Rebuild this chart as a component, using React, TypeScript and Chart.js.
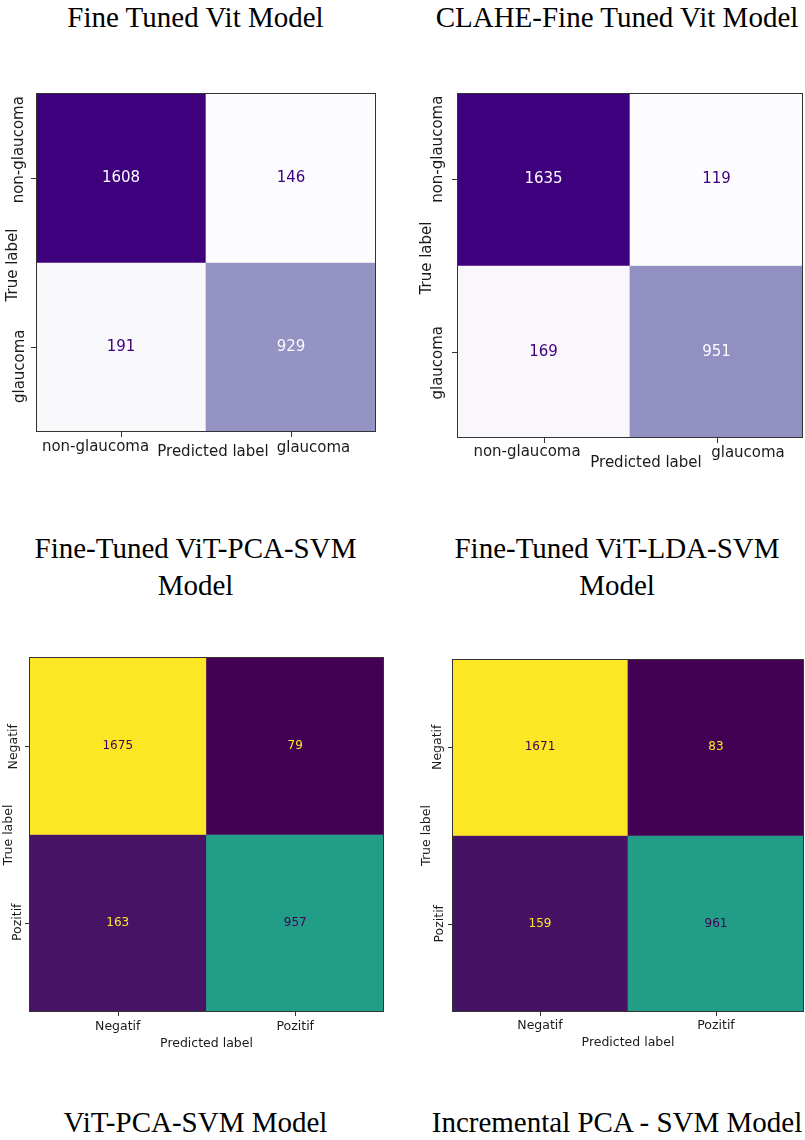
import React, { useEffect, useRef } from "react";
import { Chart, registerables } from "chart.js";

Chart.register(...registerables);

// ---------------- data ----------------
const glaucomaClasses = ["non-glaucoma", "glaucoma"];
const binaryClasses = ["Negatif", "Pozitif"];

// rows = true label, columns = predicted label
const fineTunedVitMatrix = [
  [1608, 146],
  [191, 929],
];
const claheFineTunedVitMatrix = [
  [1635, 119],
  [169, 951],
];
const vitPcaSvmMatrix = [
  [1675, 79],
  [163, 957],
];
const incrementalPcaSvmMatrix = [
  [1671, 83],
  [159, 961],
];

const topTitles = ["Fine Tuned Vit Model", "CLAHE-Fine Tuned Vit Model"];
const middleTitles = [
  ["Fine-Tuned ViT-PCA-SVM", "Model"],
  ["Fine-Tuned ViT-LDA-SVM", "Model"],
];
const bottomTitles = ["ViT-PCA-SVM Model", "Incremental PCA - SVM Model"];
const xAxisTitle = "Predicted label";
const yAxisTitle = "True label";

// ---------------- colormaps ----------------
const PURPLES = ["#fcfbfd", "#efedf5", "#dadaeb", "#bcbddc", "#9e9ac8", "#807dba", "#6a51a3", "#54278f", "#3f007d"];
const VIRIDIS = ["#440154", "#482475", "#414487", "#355f8d", "#2a788e", "#21918c", "#22a884", "#44bf70", "#7ad151", "#bddf26", "#fde725"];

function hexToRgb(h: string) {
  const s = h.replace("#", "");
  return [parseInt(s.slice(0, 2), 16), parseInt(s.slice(2, 4), 16), parseInt(s.slice(4, 6), 16)];
}
function cmap(stops: string[], t: number) {
  const tt = Math.max(0, Math.min(1, t));
  const p = tt * (stops.length - 1);
  const i = Math.min(Math.floor(p), stops.length - 2);
  const f = p - i;
  const a = hexToRgb(stops[i]);
  const b = hexToRgb(stops[i + 1]);
  const c = a.map((v, k) => Math.round(v + (b[k] - v) * f));
  return `rgb(${c[0]},${c[1]},${c[2]})`;
}

type Deco = {
  tickFont: number;
  valueFont: number;
  tickLen: number;
  yTickDx: number[];
  yTickDy: number[];
  yTitle: { dx: number; dy: number };
  xTickDx: number[];
  xTickDy: number[];
  xTitle: { dx: number; dy: number };
};

type Props = {
  matrix: number[][];
  classes: string[];
  stops: string[];
  box: { left: number; top: number; width: number; height: number };
  pad: { left: number; right: number; top: number; bottom: number };
  deco: Deco;
};

const FONT = '"DejaVu Sans", "Liberation Sans", sans-serif';

function ConfusionChart({ matrix, classes, stops, box, pad, deco }: Props) {
  const ref = useRef<HTMLCanvasElement | null>(null);

  useEffect(() => {
    if (!ref.current) return;
    const n = classes.length;
    const flat = matrix.flat();
    const min = Math.min(...flat);
    const max = Math.max(...flat);
    const thresh = (min + max) / 2;
    const colorOf = (v: number) => cmap(stops, (v - min) / (max - min));

    const datasets = matrix.map((row, r) => ({
      label: classes[r],
      data: row.map(() => [n - r - 1, n - r]),
      backgroundColor: row.map(colorOf),
      borderWidth: 0,
      grouped: false,
      categoryPercentage: 1,
      barPercentage: 1,
    }));

    const decoPlugin = {
      id: "cmDeco",
      afterDatasetsDraw(chart: any) {
        const { ctx, chartArea: a, scales } = chart;
        const xs = scales.x;
        const ys = scales.y;
        ctx.save();
        // cell values
        ctx.textAlign = "center";
        ctx.textBaseline = "middle";
        ctx.font = `${deco.valueFont}px ${FONT}`;
        matrix.forEach((row, r) => {
          row.forEach((v, c) => {
            const px = xs.getPixelForValue(c);
            const py = ys.getPixelForValue(n - r - 0.5);
            ctx.fillStyle = v > thresh ? cmap(stops, 0) : cmap(stops, 1);
            ctx.fillText(String(v), px, py);
          });
        });
        // frame
        ctx.strokeStyle = "#333333";
        ctx.lineWidth = 1;
        ctx.strokeRect(a.left + 0.5, a.top + 0.5, a.right - a.left - 1, a.bottom - a.top - 1);
        // tick marks
        ctx.beginPath();
        classes.forEach((_, c) => {
          const px = Math.round(xs.getPixelForValue(c)) + 0.5;
          ctx.moveTo(px, a.bottom);
          ctx.lineTo(px, a.bottom + deco.tickLen);
        });
        classes.forEach((_, r) => {
          const py = Math.round(ys.getPixelForValue(n - r - 0.5)) + 0.5;
          ctx.moveTo(a.left - deco.tickLen, py);
          ctx.lineTo(a.left, py);
        });
        ctx.stroke();
        // tick labels
        ctx.fillStyle = "#1a1a1a";
        ctx.font = `${deco.tickFont}px ${FONT}`;
        classes.forEach((lab, c) => {
          ctx.fillText(lab, xs.getPixelForValue(c) + deco.xTickDx[c], a.bottom + deco.xTickDy[c]);
        });
        classes.forEach((lab, r) => {
          ctx.save();
          ctx.translate(a.left + deco.yTickDx[r], ys.getPixelForValue(n - r - 0.5) + deco.yTickDy[r]);
          ctx.rotate(-Math.PI / 2);
          ctx.fillText(lab, 0, 0);
          ctx.restore();
        });
        // axis titles
        ctx.fillText(xAxisTitle, (a.left + a.right) / 2 + deco.xTitle.dx, a.bottom + deco.xTitle.dy);
        ctx.save();
        ctx.translate(a.left + deco.yTitle.dx, (a.top + a.bottom) / 2 + deco.yTitle.dy);
        ctx.rotate(-Math.PI / 2);
        ctx.fillText(yAxisTitle, 0, 0);
        ctx.restore();
        ctx.restore();
      },
    };

    const chart = new Chart(ref.current, {
      type: "bar",
      data: { labels: classes, datasets: datasets as any },
      options: {
        animation: false,
        responsive: false,
        devicePixelRatio: 1,
        layout: { padding: pad },
        plugins: {
          legend: { display: false },
          tooltip: { enabled: false },
          title: { display: false },
        },
        scales: {
          x: { type: "category", display: false, offset: true },
          y: { type: "linear", display: false, min: 0, max: n },
        },
      } as any,
      plugins: [decoPlugin as any],
    });
    return () => chart.destroy();
  }, [matrix, classes, stops, pad, deco]);

  return (
    <canvas
      ref={ref}
      width={box.width}
      height={box.height}
      style={{ position: "absolute", left: box.left, top: box.top, width: box.width, height: box.height }}
    />
  );
}

const titleStyle = (cx: number, baseline: number): React.CSSProperties => ({
  position: "absolute",
  left: cx - 200,
  width: 400,
  top: baseline - 28.3,
  textAlign: "center",
  fontFamily: '"Liberation Serif", "Times New Roman", serif',
  fontSize: 29,
  lineHeight: "37px",
  color: "#000",
  whiteSpace: "nowrap",
});

const LEFT_CX = 195.5;
const RIGHT_CX = 617;

export default function App() {
  return (
    <div style={{ position: "absolute", left: 0, top: 0, width: 805, height: 1140, background: "#fff", overflow: "hidden" }}>
      <div style={titleStyle(LEFT_CX, 27)}>{topTitles[0]}</div>
      <div style={titleStyle(RIGHT_CX, 27)}>{topTitles[1]}</div>

      <ConfusionChart
        matrix={fineTunedVitMatrix}
        classes={glaucomaClasses}
        stops={PURPLES}
        box={{ left: 0, top: 40, width: 400, height: 440 }}
        pad={{ left: 36, right: 24, top: 53, bottom: 48 }}
        deco={{
          tickFont: 15,
          valueFont: 15,
          tickLen: 5,
          yTickDx: [-17, -16],
          yTickDy: [-28, 19],
          yTitle: { dx: -23, dy: 2.5 },
          xTickDx: [-25.5, 22.5],
          xTickDy: [15, 16],
          xTitle: { dx: 7, dy: 20 },
        }}
      />
      <ConfusionChart
        matrix={claheFineTunedVitMatrix}
        classes={glaucomaClasses}
        stops={PURPLES}
        box={{ left: 400, top: 40, width: 405, height: 440 }}
        pad={{ left: 57, right: 2, top: 53, bottom: 42 }}
        deco={{
          tickFont: 15,
          valueFont: 15,
          tickLen: 5,
          yTickDx: [-19, -19],
          yTickDy: [-30, 11],
          yTitle: { dx: -30, dy: -7.5 },
          xTickDx: [-16.5, 31.5],
          xTickDy: [14, 15],
          xTitle: { dx: 16, dy: 25 },
        }}
      />

      <div style={titleStyle(LEFT_CX, 558)}>
        {middleTitles[0][0]}
        <br />
        {middleTitles[0][1]}
      </div>
      <div style={titleStyle(RIGHT_CX, 558)}>
        {middleTitles[1][0]}
        <br />
        {middleTitles[1][1]}
      </div>

      <ConfusionChart
        matrix={vitPcaSvmMatrix}
        classes={binaryClasses}
        stops={VIRIDIS}
        box={{ left: 0, top: 620, width: 400, height: 440 }}
        pad={{ left: 29, right: 16, top: 37, bottom: 48 }}
        deco={{
          tickFont: 12.5,
          valueFont: 12,
          tickLen: 4,
          yTickDx: [-15, -11],
          yTickDy: [1, -1],
          yTitle: { dx: -20, dy: 0.5 },
          xTickDx: [0, 0],
          xTickDy: [15, 15],
          xTitle: { dx: 0, dy: 32 },
        }}
      />
      <ConfusionChart
        matrix={incrementalPcaSvmMatrix}
        classes={binaryClasses}
        stops={VIRIDIS}
        box={{ left: 400, top: 620, width: 405, height: 440 }}
        pad={{ left: 52, right: 1, top: 39, bottom: 48 }}
        deco={{
          tickFont: 12.5,
          valueFont: 12,
          tickLen: 4,
          yTickDx: [-14, -12],
          yTickDy: [0, 0],
          yTitle: { dx: -25, dy: 0 },
          xTickDx: [0, 0],
          xTickDy: [14, 14],
          xTitle: { dx: 0, dy: 31 },
        }}
      />

      <div style={titleStyle(LEFT_CX, 1132)}>{bottomTitles[0]}</div>
      <div style={titleStyle(RIGHT_CX, 1132)}>{bottomTitles[1]}</div>
    </div>
  );
}
